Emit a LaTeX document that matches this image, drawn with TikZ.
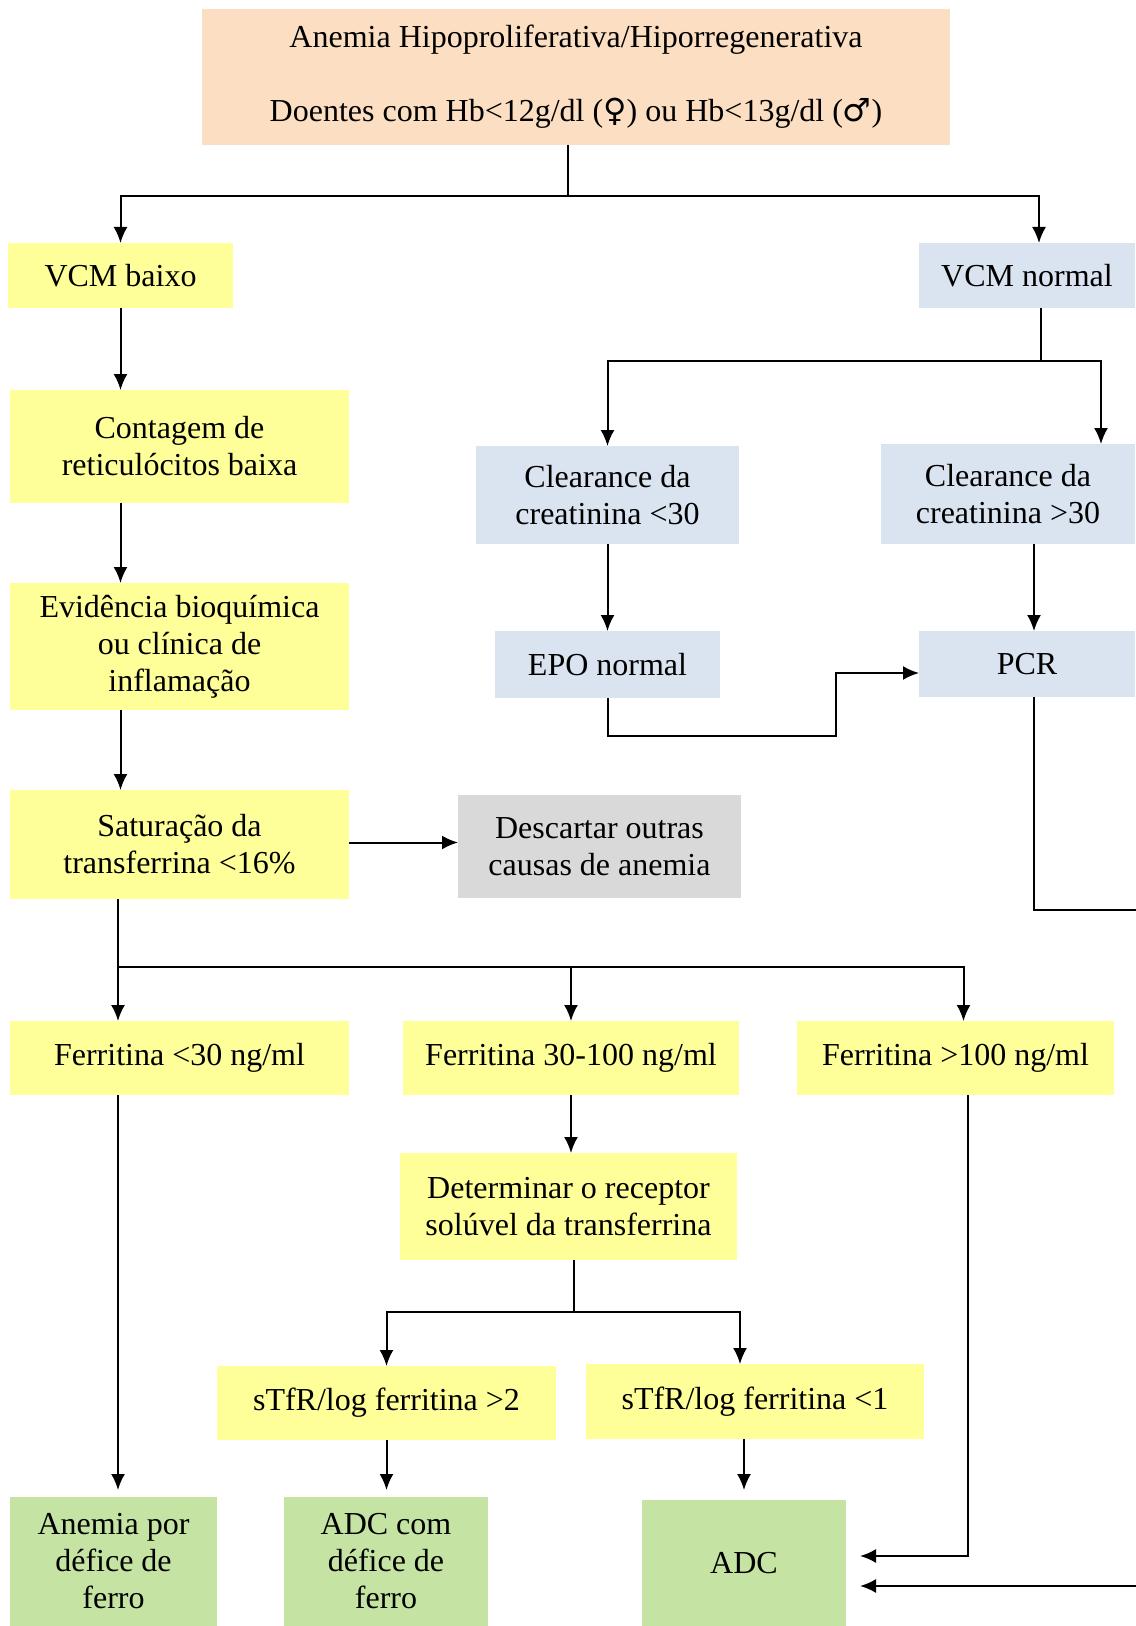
\documentclass[tikz,border=0pt]{standalone}
\usepackage{fontspec}
\setmainfont{Liberation Serif}
\newfontfamily\symbfont{DejaVu Sans}
\usepackage{xcolor}
\usepackage{tikz}
\usetikzlibrary{arrows.meta,positioning,calc}
\definecolor{ahpeach}{HTML}{FCDFC2}
\definecolor{ahyellow}{HTML}{FFFF99}
\definecolor{ahblue}{HTML}{DAE3F0}
\definecolor{ahgrey}{HTML}{D9D9D9}
\definecolor{ahgreen}{HTML}{C5E3A2}

\begin{document}
\begin{tikzpicture}[
  x=0.5pt,y=-0.5pt,
  every node/.style={font=\fontsize{16}{18.5}\selectfont,align=center,inner sep=0pt,outer sep=0pt},
  origin/.style={fill=ahpeach},
  finding/.style={fill=ahyellow},
  branch/.style={fill=ahblue},
  aside/.style={fill=ahgrey},
  outcome/.style={fill=ahgreen},
  link/.style={line width=1pt,color=black},
  arrow/.style={link,-{Latex[length=8pt,width=7pt]}}
]
\useasboundingbox (0,0) rectangle (1135,1626);
% boxes
\node[origin,minimum width=374pt,minimum height=68pt] (start) at (576,77)
  {Anemia Hipoproliferativa/Hiporregenerativa\\[18.5pt]
   Doentes com Hb<12g/dl ({\symbfont ♀}) ou Hb<13g/dl ({\symbfont ♂})};
\node[finding,minimum width=112.5pt,minimum height=32.5pt] (vcmlow) at (120.5,275.5) {VCM baixo};
\node[branch,minimum width=108pt,minimum height=32.5pt] (vcmnorm) at (1027,275.5) {VCM normal};
\node[finding,minimum width=169.5pt,minimum height=56.5pt] (retic) at (179.5,446.5) {Contagem de\\reticulócitos baixa};
\node[finding,minimum width=169.5pt,minimum height=63.5pt] (inflam) at (179.5,646.5) {Evidência bioquímica\\ou clínica de\\inflamação};
\node[finding,minimum width=169.5pt,minimum height=54.5pt] (satur) at (179.5,844.5) {Saturação da\\transferrina <16\%};
\node[aside,minimum width=141.5pt,minimum height=51.5pt] (discard) at (599.5,846.5) {Descartar outras\\causas de anemia};
\node[branch,minimum width=131.5pt,minimum height=49pt] (clrlow) at (607.5,495) {Clearance da\\creatinina <30};
\node[branch,minimum width=127pt,minimum height=50pt] (clrhigh) at (1008,494) {Clearance da\\creatinina >30};
\node[branch,minimum width=112.5pt,minimum height=33.5pt] (epo) at (607.5,664.5) {EPO normal};
\node[branch,minimum width=108pt,minimum height=33pt] (pcr) at (1027,664) {PCR};
\node[finding,minimum width=169.5pt,minimum height=37pt] (ferlow) at (179.5,1058) {Ferritina <30 ng/ml};
\node[finding,minimum width=168pt,minimum height=37pt] (fermid) at (571,1058) {Ferritina 30-100 ng/ml};
\node[finding,minimum width=158.5pt,minimum height=37pt] (ferhigh) at (955.5,1058) {Ferritina >100 ng/ml};
\node[finding,minimum width=168.5pt,minimum height=53.5pt] (stfr) at (568.5,1206.5) {Determinar o receptor\\solúvel da transferrina};
\node[finding,minimum width=169.5pt,minimum height=37pt] (ratiohigh) at (386.5,1403) {sTfR/log ferritina >2};
\node[finding,minimum width=169pt,minimum height=37.5pt] (ratiolow) at (755,1401.5) {sTfR/log ferritina <1};
\node[outcome,minimum width=103.5pt,minimum height=64.5pt] (ida) at (113.5,1561.5) {Anemia por\\défice de\\ferro};
\node[outcome,minimum width=102pt,minimum height=64.5pt] (adciron) at (386,1561.5) {ADC com\\défice de\\ferro};
\node[outcome,minimum width=102pt,minimum height=63pt] (adc) at (744,1563) {ADC};
% junctions
\coordinate (jtop) at (568,196);
\coordinate (jnorm) at (1041,361);
\coordinate (jsat) at (118,967);
\coordinate (jstfr) at (574,1312);
\coordinate (jepo) at (836,736);
\coordinate (jpcr) at (1150,910);
% left column
\draw[link] (start.south -| jtop) -- (jtop);
\draw[arrow] (jtop) -| (vcmlow.north);
\draw[arrow] (jtop) -| ($(vcmnorm.north)+(12,0)$);
\draw[arrow] (vcmlow.south) -- (vcmlow.south |- retic.north);
\draw[arrow] (vcmlow.south |- retic.south) -- (vcmlow.south |- inflam.north);
\draw[arrow] (vcmlow.south |- inflam.south) -- (vcmlow.south |- satur.north);
\draw[arrow] ($(satur.east)+(0,-2)$) -- ($(satur.east -| discard.west)+(0,-2)$);
\draw[link] (satur.south -| jsat) -- (jsat);
\draw[arrow] (jsat) -- (jsat |- ferlow.north);
\draw[arrow] (jsat) -| (fermid.north);
\draw[arrow] (jsat) -| ($(ferhigh.north)+(8,0)$);
% right column
\draw[link] (vcmnorm.south -| jnorm) -- (jnorm);
\draw[arrow] (jnorm) -| (clrlow.north);
\draw[arrow] (jnorm) -| ($(clrhigh.north)+(93,0)$);
\draw[arrow] (clrlow.south) -- (epo.north);
\draw[arrow] ($(clrhigh.south)+(26,0)$) -- ($(pcr.north)+(7,0)$);
\draw[arrow] (epo.south) |- (jepo) |- ($(pcr.west)+(0,9)$);
\draw[arrow] ($(pcr.south)+(7,0)$) |- (jpcr) |- ($(adc.east)+(14,23)$);
% ferritin branches
\draw[arrow] (ferlow.south -| jsat) -- ($(ida.north -| jsat)+(0,-7)$);
\draw[arrow] (fermid.south) -- (fermid.south |- stfr.north);
\draw[link] (stfr.south -| jstfr) -- (jstfr);
\draw[arrow] (jstfr) -| (ratiohigh.north);
\draw[arrow] (jstfr) -| ($(ratiolow.north)+(-15,0)$);
\draw[arrow] (ratiohigh.south) -- ($(ratiohigh.south |- adciron.north)+(0,-7)$);
\draw[arrow] (ratiolow.south -| adc) -- ($(adc.north)+(0,-10)$);
\draw[arrow] ($(ferhigh.south)+(12,0)$) |- ($(adc.east)+(14,-7)$);
\end{tikzpicture}
\end{document}
